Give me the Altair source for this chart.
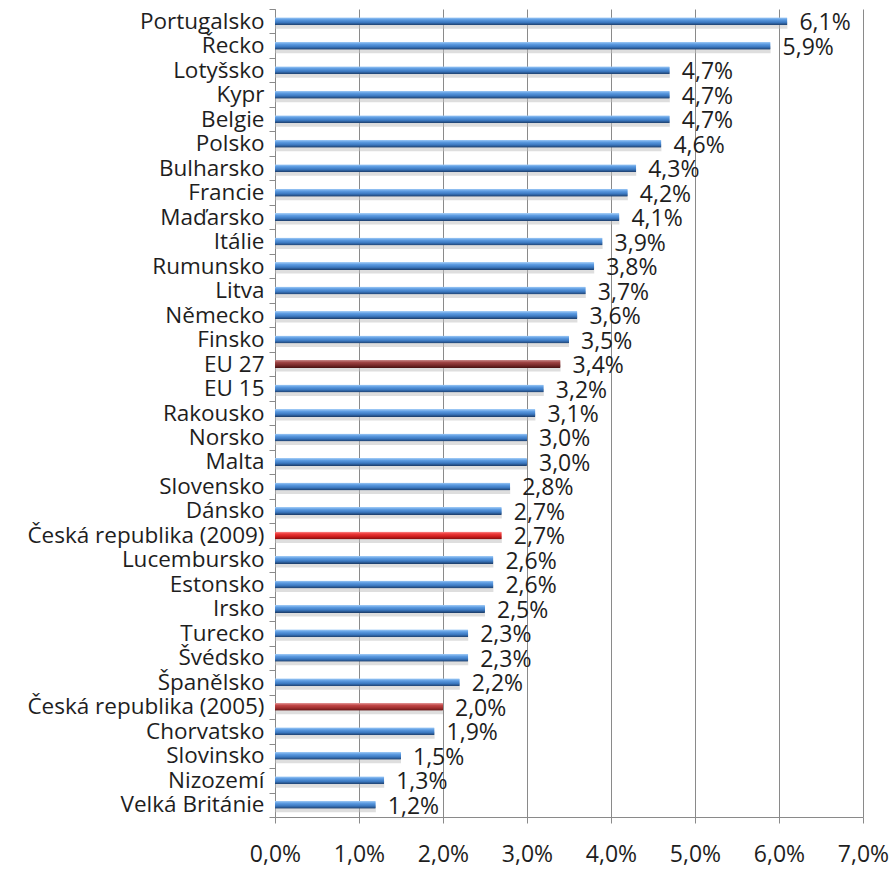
import altair as alt
import pandas as pd

countries = ["Portugalsko", "Řecko", "Lotyšsko", "Kypr", "Belgie", "Polsko", "Bulharsko",
             "Francie", "Maďarsko", "Itálie", "Rumunsko", "Litva", "Německo", "Finsko",
             "EU 27", "EU 15", "Rakousko", "Norsko", "Malta", "Slovensko", "Dánsko",
             "Česká republika (2009)", "Lucembursko", "Estonsko", "Irsko", "Turecko",
             "Švédsko", "Španělsko", "Česká republika (2005)", "Chorvatsko", "Slovinsko",
             "Nizozemí", "Velká Británie"]
values = [6.1, 5.9, 4.7, 4.7, 4.7, 4.6, 4.3, 4.2, 4.1, 3.9, 3.8, 3.7, 3.6, 3.5,
          3.4, 3.2, 3.1, 3.0, 3.0, 2.8, 2.7, 2.7, 2.6, 2.6, 2.5, 2.3, 2.3, 2.2,
          2.0, 1.9, 1.5, 1.3, 1.2]
groups = ["blue"] * 14 + ["eu27"] + ["blue"] * 6 + ["cz2009"] + ["blue"] * 6 + ["cz2005"] + ["blue"] * 4
x_ticks = [0, 1, 2, 3, 4, 5, 6, 7]

df = pd.DataFrame({"country": countries, "value": values, "group": groups})

FONT = "Open Sans"
GRID = "#8a8a8a"
TXT = "#1e1e1e"


def grad(c0, c1, c2, c3):
    return alt.Gradient(
        gradient="linear", x1=0, x2=0, y1=0, y2=1,
        stops=[alt.GradientStop(color=c0, offset=0),
               alt.GradientStop(color=c1, offset=0.3),
               alt.GradientStop(color=c2, offset=0.65),
               alt.GradientStop(color=c3, offset=1)])


fills = {
    "blue": grad("#a8d0f8", "#5d9ce2", "#3b78c0", "#1a3a66"),
    "eu27": grad("#c98a8a", "#9e4444", "#7a2a2a", "#461212"),
    "cz2009": grad("#ff9a9a", "#ee3a3a", "#cc1c1c", "#7a0c0c"),
    "cz2005": grad("#e7a0a0", "#c24848", "#a02e2e", "#5e1414"),
}

x_enc = alt.X("value:Q", scale=alt.Scale(domain=[0, 7], nice=False),
              axis=alt.Axis(values=x_ticks, title=None, grid=True, gridColor=GRID,
                            gridWidth=1, domainColor=GRID, tickColor=GRID, tickSize=6,
                            labelExpr="replace(format(datum.value, '.1f'), '.', ',') + '%'",
                            labelFont=FONT, labelFontSize=23, labelColor=TXT,
                            labelPadding=20, labelFlush=False))
y_enc = alt.Y("country:N", sort=countries,
              scale=alt.Scale(paddingInner=0, paddingOuter=0),
              axis=alt.Axis(title=None, tickBand="extent", tickSize=6, tickColor=GRID,
                            domainColor=GRID, labelFont=FONT, labelFontSize=22.5,
                            labelColor=TXT, labelPadding=5, grid=False, labelLimit=0))

base = alt.Chart(df)

shadow = base.mark_bar(size=7, yOffset=4, color="#bdbdbd", opacity=0.5).encode(x=x_enc, y=y_enc)

layers = [shadow]
for g, f in fills.items():
    layers.append(
        base.transform_filter(alt.datum.group == g)
        .mark_bar(size=8, color=f, cornerRadiusEnd=1)
        .encode(x=x_enc, y=y_enc)
    )

labels = base.transform_calculate(
    lab="replace(format(datum.value, '.1f'), '.', ',') + '%'"
).mark_text(align="left", baseline="middle", dx=12, dy=2, font=FONT, fontSize=23,
            color=TXT).encode(x=x_enc, y=y_enc, text="lab:N")
layers.append(labels)

chart = alt.layer(*layers).properties(
    width=588, height=808,
    autosize=alt.AutoSizeParams(type="none"),
    padding={"left": 275, "top": 9, "right": 27, "bottom": 54},
    background="white",
).configure_view(stroke=None)

chart.save("out.html", embed_options={"renderer": "svg", "actions": False})
